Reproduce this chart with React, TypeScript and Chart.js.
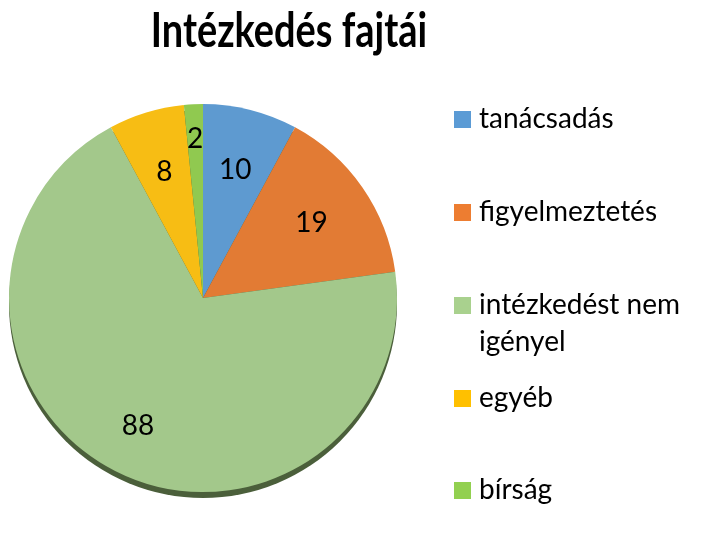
import React, { useEffect, useRef } from "react";
import { Chart, registerables } from "chart.js";

Chart.register(...registerables);

const titleText = "Intézkedés fajtái";
const categories = ["tanácsadás", "figyelmeztetés", "intézkedést nem igényel", "egyéb", "bírság"];
const legendLines = [["tanácsadás"], ["figyelmeztetés"], ["intézkedést nem", "igényel"], ["egyéb"], ["bírság"]];
const values = [10, 19, 88, 8, 2];
const sliceColors = ["#5E9AD0", "#E27B34", "#A3C88B", "#F7BD14", "#90C950"];
const legendColors = ["#5B9BD5", "#ED7D31", "#A9D18E", "#FFC000", "#92D050"];

const FONT = "Lato, 'Open Sans', sans-serif";

const decorPlugin = {
  id: "decor",
  beforeDatasetsDraw(chart: any) {
    const meta = chart.getDatasetMeta(0);
    const arc = meta.data[0];
    if (!arc) return;
    const { x, y, outerRadius } = arc.getProps(["x", "y", "outerRadius"], true);
    const ctx = chart.ctx;
    ctx.save();
    ctx.beginPath();
    ctx.arc(x, y + 6, outerRadius, 0, Math.PI * 2);
    ctx.fillStyle = "#4B5F3B";
    ctx.fill();
    ctx.restore();
  },
  afterDatasetsDraw(chart: any) {
    const ctx = chart.ctx;
    const meta = chart.getDatasetMeta(0);
    const data = chart.data.datasets[0].data as number[];
    const total = data.reduce((a, b) => a + b, 0);
    ctx.save();
    ctx.fillStyle = "#000";
    ctx.font = `28px ${FONT}`;
    ctx.textAlign = "center";
    ctx.textBaseline = "middle";
    meta.data.forEach((el: any, i: number) => {
      const { x, y, startAngle, endAngle, outerRadius } = el.getProps(
        ["x", "y", "startAngle", "endAngle", "outerRadius"],
        true
      );
      const share = data[i] / total;
      const mid = (startAngle + endAngle) / 2;
      const frac = share < 0.03 ? 0.82 : share > 0.5 ? 0.74 : 0.68;
      const r = outerRadius * frac;
      ctx.fillText(String(data[i]), x + Math.cos(mid) * r, y + Math.sin(mid) * r);
    });
    // title
    ctx.save();
    ctx.font = `bold 48px ${FONT}`;
    ctx.textBaseline = "alphabetic";
    ctx.translate(289, 47);
    ctx.scale(0.79, 1);
    ctx.fillText(titleText, 0, 0);
    ctx.restore();
    // legend
    ctx.font = `28px ${FONT}`;
    ctx.textAlign = "left";
    ctx.textBaseline = "middle";
    const ys = [119, 212, 305, 398, 490];
    legendLines.forEach((lines, i) => {
      ctx.fillStyle = legendColors[i];
      ctx.fillRect(454, ys[i] - 8, 17, 17);
      ctx.fillStyle = "#000";
      lines.forEach((ln, j) => {
        ctx.fillText(ln, 479, ys[i] + j * 37);
      });
    });
    ctx.restore();
  },
};

export default function App() {
  const ref = useRef<HTMLCanvasElement>(null);
  useEffect(() => {
    if (!ref.current) return;
    const chart = new Chart(ref.current, {
      type: "pie",
      data: {
        labels: categories,
        datasets: [
          {
            data: values,
            backgroundColor: sliceColors,
            borderWidth: 0,
          },
        ],
      },
      options: {
        animation: false,
        responsive: false,
        maintainAspectRatio: false,
        layout: { padding: { left: 9, right: 313, top: 104, bottom: 47 } },
        plugins: {
          legend: { display: false },
          title: { display: false },
          tooltip: { enabled: false },
        },
      },
      plugins: [decorPlugin],
    });
    return () => chart.destroy();
  }, []);
  return (
    <div style={{ position: "fixed", left: 0, top: 0, width: 710, height: 539, background: "#fff" }}>
      <canvas ref={ref} width={710} height={539} style={{ width: 710, height: 539 }} />
    </div>
  );
}
